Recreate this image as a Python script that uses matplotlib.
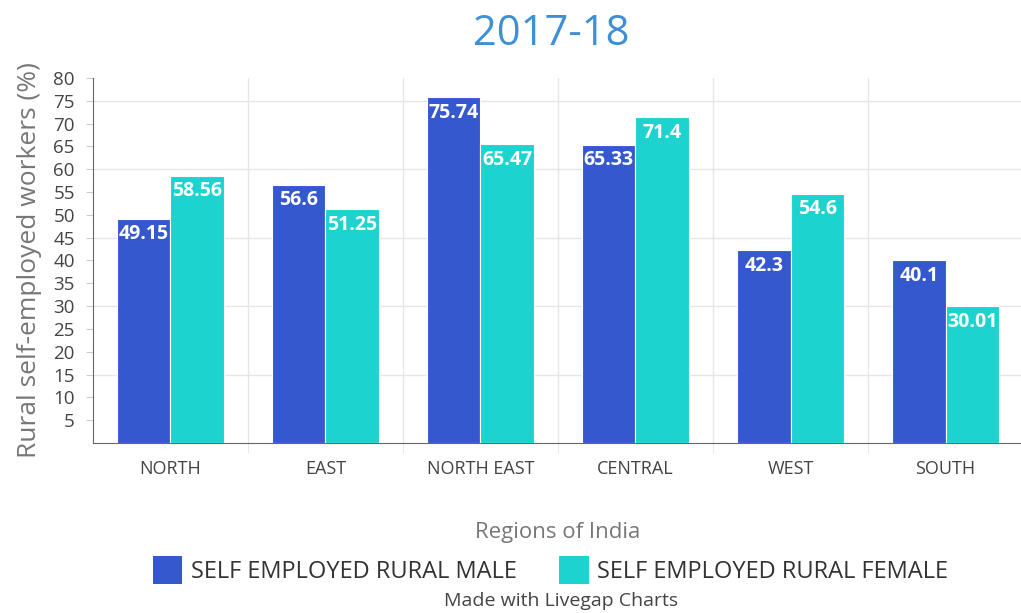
import numpy as np
import matplotlib
matplotlib.use('Agg')
import matplotlib.pyplot as plt
from matplotlib.patches import Patch

plt.rcParams['font.family'] = ['Open Sans', 'DejaVu Sans']

regions = ['NORTH', 'EAST', 'NORTH EAST', 'CENTRAL', 'WEST', 'SOUTH']
male = [49.15, 56.6, 75.74, 65.33, 42.3, 40.1]
female = [58.56, 51.25, 65.47, 71.4, 54.6, 30.01]
male_lbl = ['49.15', '56.6', '75.74', '65.33', '42.3', '40.1']
female_lbl = ['58.56', '51.25', '65.47', '71.4', '54.6', '30.01']

c_male = '#3558cf'
c_female = '#1dd3d0'

fig = plt.figure(figsize=(10.21, 6.13), dpi=100)
ax = fig.add_axes([0.091, 0.2773, 0.911, 0.5955])

x = np.arange(len(regions))
w = 0.345
b1 = ax.bar(x - w / 2, male, w, color=c_male, edgecolor='white', linewidth=0.8, zorder=3)
b2 = ax.bar(x + w / 2, female, w, color=c_female, edgecolor='white', linewidth=0.8, zorder=3)

for bars, labels in ((b1, male_lbl), (b2, female_lbl)):
    for r, t in zip(bars, labels):
        ax.annotate(t, (r.get_x() + r.get_width() / 2, r.get_height()),
                    xytext=(0, -4), textcoords='offset points',
                    ha='center', va='top', color='white',
                    fontsize=14, fontweight='bold', zorder=4)

# horizontal grid every 15
for yv in range(15, 80, 15):
    ax.axhline(yv, color='#e6e6e6', linewidth=1, zorder=0)

ax.set_xlim(-0.5, len(regions) - 0.5)
ax.set_ylim(0, 80)
ax.set_yticks(np.arange(5, 81, 5))
ax.set_xticks(x)
ax.set_xticklabels(regions, fontsize=13, color='#444444')
ax.set_xticks(np.arange(0.5, len(regions) - 0.5, 1), minor=True)
ax.tick_params(axis='y', which='major', length=5, color='#cccccc', labelsize=13.5,
               labelcolor='#444444', pad=8)
ax.tick_params(axis='x', which='major', length=0, pad=12)
ax.tick_params(axis='x', which='minor', length=7, color='#e3e3e3')
ax.grid(axis='x', which='minor', color='#e6e6e6', linewidth=1, zorder=0)

for s in ('top', 'right'):
    ax.spines[s].set_visible(False)
ax.spines['left'].set_color('#666666')
ax.spines['bottom'].set_color('#666666')

ax.set_ylabel('Rural self-employed workers (%)', fontsize=19, color='#777777', labelpad=8)
ax.set_xlabel('Regions of India', fontsize=16, color='#777777', labelpad=32)

fig.text(0.54, 0.945, '2017-18', fontsize=30, color='#3d8fd6', ha='center', va='center')

handles = [Patch(facecolor=c_male, label='SELF EMPLOYED RURAL MALE'),
           Patch(facecolor=c_female, label='SELF EMPLOYED RURAL FEMALE')]
fig.legend(handles=handles, loc='center', bbox_to_anchor=(0.539, 0.07), ncol=2,
           frameon=False, fontsize=17, handlelength=1.25, handleheight=1.5,
           handletextpad=0.35, columnspacing=1.8, labelcolor='#333333')
fig.text(0.55, 0.019, 'Made with Livegap Charts', fontsize=14, color='#444444',
         ha='center', va='center')

plt.savefig('out.png', dpi=100)
